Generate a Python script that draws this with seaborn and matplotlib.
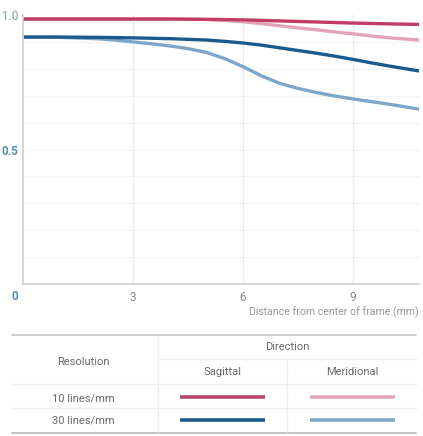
import matplotlib
matplotlib.use('Agg')
import matplotlib.pyplot as plt
import seaborn as sns
import pandas as pd

# MTF readings (distance from center in mm -> contrast)
dist_10s = [0, 1, 2, 3, 4, 5, 6, 7, 8, 9, 10, 10.8]
mtf_10s = [0.985, 0.985, 0.985, 0.985, 0.985, 0.984, 0.982, 0.978, 0.974, 0.970, 0.967, 0.965]

dist_10m = [0, 1, 2, 3, 4, 5, 5.5, 6, 6.5, 7, 7.5, 8, 8.5, 9, 9.5, 10, 10.8]
mtf_10m = [0.985, 0.985, 0.985, 0.985, 0.985, 0.983, 0.980, 0.975, 0.968, 0.960, 0.952, 0.945, 0.937, 0.930, 0.922, 0.915, 0.907]

dist_30s = [0, 1, 2, 3, 4, 5, 5.5, 6, 6.5, 7, 7.5, 8, 8.5, 9, 9.5, 10, 10.8]
mtf_30s = [0.918, 0.918, 0.917, 0.915, 0.912, 0.907, 0.902, 0.896, 0.888, 0.878, 0.868, 0.858, 0.847, 0.835, 0.822, 0.810, 0.792]

dist_30m = [0, 1, 2, 2.5, 3, 3.5, 4, 4.5, 5, 5.5, 6, 6.5, 7, 7.5, 8, 8.5, 9, 9.5, 10, 10.8]
mtf_30m = [0.918, 0.917, 0.912, 0.907, 0.900, 0.893, 0.885, 0.875, 0.861, 0.838, 0.808, 0.774, 0.746, 0.727, 0.712, 0.699, 0.688, 0.678, 0.668, 0.650]

series_names = ['10 lines/mm Sagittal', '10 lines/mm Meridional',
                '30 lines/mm Sagittal', '30 lines/mm Meridional']
series_colors = ['#c23d65', '#e3a3b8', '#1a5a8f', '#7da7ca']

x_ticks = [0, 3, 6, 9]
y_ticks = [0.5, 1.0]

frames = []
for name, xs, ys in zip(series_names,
                        [dist_10s, dist_10m, dist_30s, dist_30m],
                        [mtf_10s, mtf_10m, mtf_30s, mtf_30m]):
    frames.append(pd.DataFrame({'dist': xs, 'mtf': ys, 'series': name}))
df = pd.concat(frames, ignore_index=True)

sns.set_style('white')
plt.rcParams['font.family'] = ['Roboto', 'DejaVu Sans']

W, H = 423, 436
fig = plt.figure(figsize=(W / 100, H / 100), dpi=100)
ax = fig.add_axes([23 / W, 1 - 284 / H, 396 / W, 269 / H])

# faint horizontal grid
for yv in [0.1, 0.2, 0.3, 0.4, 0.5, 0.6, 0.7, 0.8, 0.9]:
    ax.axhline(yv, color='#f4f4f4', lw=0.8, zorder=0)
for xv in x_ticks[1:]:
    ax.axvline(xv, color='#ececec', lw=1.0, zorder=0)

# draw meridional first so sagittal sits on top
order = [1, 3, 0, 2]
sns.lineplot(data=df, x='dist', y='mtf', hue='series', hue_order=[series_names[i] for i in order],
             palette=[series_colors[i] for i in order], linewidth=2.4, legend=False, ax=ax,
             estimator=None, sort=False)

ax.set_xlim(0, 10.8)
ax.set_ylim(0, 1.0)
ax.set_xlabel('')
ax.set_ylabel('')
ax.set_xticks(x_ticks)
ax.set_xticklabels(['', '3', '6', '9'], color='#888888', fontsize=8.5)
ax.set_yticks(y_ticks)
ax.set_yticklabels(['0.5', '1.0'], fontsize=8.5)
ylabels = ax.get_yticklabels()
ylabels[0].set_color('#5a8db3')
ylabels[0].set_fontweight('bold')
ylabels[1].set_color('#7f9db2')
ax.tick_params(axis='both', length=0, pad=5)
ax.tick_params(axis='y', pad=3)
for s in ['top', 'right']:
    ax.spines[s].set_visible(False)
for s in ['left', 'bottom']:
    ax.spines[s].set_color('#d2d2d2')
    ax.spines[s].set_linewidth(1.3)

# overlay in pixel coordinates for free-floating text and the legend table
ov = fig.add_axes([0, 0, 1, 1], zorder=-1)
ov.set_xlim(0, W)
ov.set_ylim(H, 0)
ov.axis('off')

ov.text(15, 296, '0', color='#5a8db3', fontweight='bold', fontsize=8.5, ha='center', va='center')
ov.text(419, 312, 'Distance from center of frame (mm)', color='#999999', fontsize=7.6,
        ha='right', va='center')

# legend table
txt = '#6a6a6a'
ov.plot([12, 416], [335, 335], color='#cfcfcf', lw=1.4)
ov.plot([158, 416], [359, 359], color='#eeeeee', lw=0.9)
ov.plot([12, 416], [384, 384], color='#eeeeee', lw=0.9)
ov.plot([12, 416], [408, 408], color='#eeeeee', lw=0.9)
ov.plot([12, 416], [433, 433], color='#c4c4c4', lw=1.4)
ov.plot([158, 158], [336, 432], color='#eeeeee', lw=0.9)
ov.plot([287, 287], [360, 432], color='#eeeeee', lw=0.9)

ov.text(287, 347, 'Direction', color=txt, fontsize=8, ha='center', va='center')
ov.text(83, 362, 'Resolution', color=txt, fontsize=8, ha='center', va='center')
ov.text(222, 372, 'Sagittal', color=txt, fontsize=8, ha='center', va='center')
ov.text(352, 372, 'Meridional', color=txt, fontsize=8, ha='center', va='center')
ov.text(83, 398, '10 lines/mm', color=txt, fontsize=8, ha='center', va='center')
ov.text(83, 420, '30 lines/mm', color=txt, fontsize=8, ha='center', va='center')

leg_colors = ['#b8476b', '#e3a7ba', '#1d5a8c', '#80a7c9']
ov.plot([180, 265], [397, 397], color=leg_colors[0], lw=2.6, solid_capstyle='butt')
ov.plot([310, 395], [397, 397], color=leg_colors[1], lw=2.6, solid_capstyle='butt')
ov.plot([180, 265], [420, 420], color=leg_colors[2], lw=2.6, solid_capstyle='butt')
ov.plot([310, 395], [420, 420], color=leg_colors[3], lw=2.6, solid_capstyle='butt')

fig.savefig('out.png', dpi=100)
plt.close(fig)
